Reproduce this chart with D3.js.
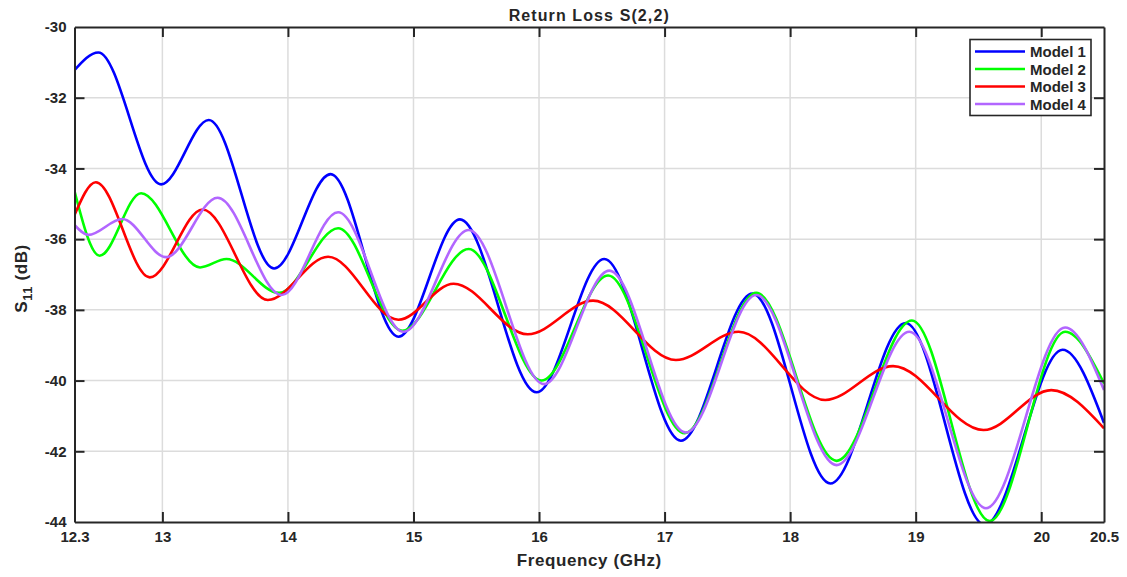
<!DOCTYPE html>
<html>
<head>
<meta charset="utf-8">
<script src="https://cdn.jsdelivr.net/npm/d3@7"></script>
<style>
  html, body { margin: 0; padding: 0; background: #fff; }
  svg text { font-family: "Liberation Sans", Arial, sans-serif; font-weight: bold; fill: #262626; }
</style>
</head>
<body>
<svg id="chart" width="1127" height="577"></svg>
<script>
// ---- data ----
const xTicks = [12.3, 13, 14, 15, 16, 17, 18, 19, 20, 20.5];
const yTicks = [-30, -32, -34, -36, -38, -40, -42, -44];
const seriesNames = ["Model 1", "Model 2", "Model 3", "Model 4"];
const seriesColors = ["#0000ff", "#00ff00", "#ff0000", "#b266ff"];

const model1Freq = [12.3, 12.49, 12.99, 13.37, 13.89, 14.34, 14.88, 15.37, 15.98, 16.52, 17.13, 17.70, 18.32, 18.92, 19.55, 20.17, 20.5];
const model1Val  = [-31.22, -30.72, -34.45, -32.63, -36.83, -34.16, -38.76, -35.44, -40.33, -36.56, -41.70, -37.54, -42.91, -38.37, -44.08, -39.13, -41.20];

const model2Freq = [12.3, 12.50, 12.83, 13.30, 13.51, 13.93, 14.40, 14.91, 15.44, 16.02, 16.55, 17.16, 17.73, 18.37, 18.97, 19.59, 20.19, 20.5];
const model2Val  = [-34.64, -36.47, -34.70, -36.80, -36.56, -37.52, -35.69, -38.59, -36.28, -40.00, -37.03, -41.49, -37.52, -42.27, -38.30, -43.97, -38.62, -40.08];

const model3Freq = [12.3, 12.47, 12.90, 13.32, 13.84, 14.32, 14.88, 15.32, 15.91, 16.43, 17.09, 17.59, 18.28, 18.82, 19.54, 20.08, 20.5];
const model3Val  = [-35.32, -34.39, -37.08, -35.16, -37.72, -36.50, -38.28, -37.26, -38.69, -37.74, -39.42, -38.62, -40.55, -39.59, -41.40, -40.27, -41.35];

const model4Freq = [12.3, 12.41, 12.68, 13.03, 13.44, 13.95, 14.40, 14.92, 15.44, 16.04, 16.56, 17.17, 17.73, 18.37, 18.95, 19.56, 20.19, 20.5];
const model4Val  = [-35.60, -35.88, -35.43, -36.51, -34.83, -37.58, -35.24, -38.62, -35.74, -40.10, -36.89, -41.47, -37.58, -42.39, -38.62, -43.61, -38.50, -40.27];

const seriesFreq = [model1Freq, model2Freq, model3Freq, model4Freq];
const seriesVal = [model1Val, model2Val, model3Val, model4Val];

// ---- layout ----
const pLeft = 74.5, pRight = 1104, pTop = 27, pBottom = 522;
const svg = d3.select("#chart");
const x = d3.scaleLinear().domain([12.3, 20.5]).range([pLeft, pRight]);
const y = d3.scaleLinear().domain([-44, -30]).range([pBottom, pTop]);

// grid
const grid = svg.append("g");
grid.selectAll(".vg").data(xTicks.filter(t => t > 12.3 && t < 20.5)).enter().append("line")
  .attr("x1", d => x(d)).attr("x2", d => x(d)).attr("y1", pTop).attr("y2", pBottom)
  .attr("stroke", "#dcdcdc").attr("stroke-width", 1.5);
grid.selectAll(".hg").data(yTicks.filter(t => t > -44 && t < -30)).enter().append("line")
  .attr("x1", pLeft).attr("x2", pRight).attr("y1", d => y(d)).attr("y2", d => y(d))
  .attr("stroke", "#dcdcdc").attr("stroke-width", 1.5);

// clip
svg.append("clipPath").attr("id", "clip").append("rect")
  .attr("x", pLeft).attr("y", pTop).attr("width", pRight - pLeft).attr("height", pBottom - pTop);

// lines
const line = d3.line().x(d => x(d[0])).y(d => y(d[1])).curve(d3.curveMonotoneX);
const plot = svg.append("g").attr("clip-path", "url(#clip)");
seriesNames.forEach((name, i) => {
  const pts = seriesFreq[i].map((f, j) => [f, seriesVal[i][j]]);
  plot.append("path").datum(pts).attr("d", line)
    .attr("fill", "none").attr("stroke", seriesColors[i]).attr("stroke-width", 2.6)
    .attr("stroke-linejoin", "round");
});

// axes (box with inward ticks)
const tickLen = 10;
const axB = svg.append("g").attr("transform", `translate(0,${pBottom})`)
  .call(d3.axisBottom(x).tickValues(xTicks).tickSizeInner(-tickLen).tickSizeOuter(0).tickPadding(9).tickFormat(d => d));
const axT = svg.append("g").attr("transform", `translate(0,${pTop})`)
  .call(d3.axisTop(x).tickValues(xTicks).tickSizeInner(-tickLen).tickSizeOuter(0).tickFormat(""));
const axL = svg.append("g").attr("transform", `translate(${pLeft},0)`)
  .call(d3.axisLeft(y).tickValues(yTicks).tickSizeInner(-tickLen).tickSizeOuter(0).tickPadding(8).tickFormat(d => d));
const axR = svg.append("g").attr("transform", `translate(${pRight},0)`)
  .call(d3.axisRight(y).tickValues(yTicks).tickSizeInner(-tickLen).tickSizeOuter(0).tickFormat(""));
[axB, axT, axL, axR].forEach(a => {
  a.select(".domain").attr("stroke", "#262626").attr("stroke-width", 2);
  a.selectAll(".tick line").attr("stroke", "#262626").attr("stroke-width", 2);
  a.selectAll("text").attr("font-size", 15).attr("font-family", "Liberation Sans, Arial, sans-serif")
    .attr("font-weight", "bold").attr("fill", "#262626");
});
axB.selectAll(".tick text").attr("dy", "0.71em");
axB.selectAll(".tick").filter(d => d === 12.3 || d === 20.5).select("line").remove();
axT.selectAll(".tick").filter(d => d === 12.3 || d === 20.5).select("line").remove();
axL.selectAll(".tick").filter(d => d === -30 || d === -44).select("line").remove();
axR.selectAll(".tick").filter(d => d === -30 || d === -44).select("line").remove();

// title
svg.append("text").attr("x", (pLeft + pRight) / 2).attr("y", 20.5).attr("text-anchor", "middle")
  .attr("font-size", 16).attr("letter-spacing", 1.1).text("Return Loss S(2,2)");

// x label
svg.append("text").attr("x", (pLeft + pRight) / 2).attr("y", 566).attr("text-anchor", "middle")
  .attr("font-size", 17).attr("letter-spacing", 0.6).text("Frequency (GHz)");

// y label
const yl = svg.append("text").attr("transform", `translate(27,${(pTop + pBottom) / 2 + 4}) rotate(-90)`)
  .attr("text-anchor", "middle").attr("font-size", 17).attr("letter-spacing", 0.6);
yl.append("tspan").text("S");
yl.append("tspan").attr("font-size", 13).attr("dy", 5).text("11");
yl.append("tspan").attr("dy", -5).text(" (dB)");

// legend
const lg = svg.append("g");
lg.append("rect").attr("x", 970).attr("y", 39.5).attr("width", 121).attr("height", 76)
  .attr("fill", "#fff").attr("stroke", "#262626").attr("stroke-width", 1.6);
seriesNames.forEach((name, i) => {
  const yy = 51.5 + i * 17.5;
  lg.append("line").attr("x1", 975).attr("x2", 1025).attr("y1", yy).attr("y2", yy)
    .attr("stroke", seriesColors[i]).attr("stroke-width", 2.6);
  lg.append("text").attr("x", 1030).attr("y", yy + 5.5).attr("font-size", 15).text(name);
});
</script>
</body>
</html>
